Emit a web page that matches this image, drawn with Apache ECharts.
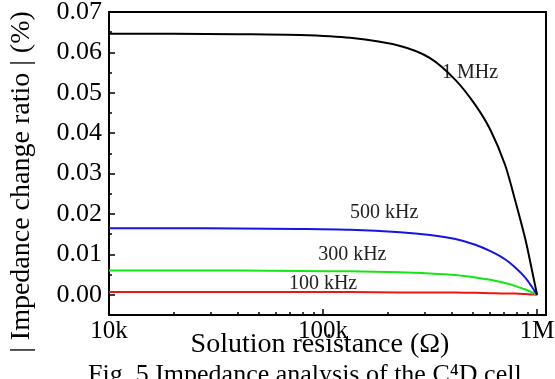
<!DOCTYPE html>
<html>
<head>
<meta charset="utf-8">
<script src="https://cdn.jsdelivr.net/npm/echarts@6/dist/echarts.min.js"></script>
<style>
html,body{margin:0;padding:0;background:#fff;}
#chart{width:555px;height:379px;}
</style>
</head>
<body>
<div id="chart"></div>
<script>
// ---- data ----
const resistance = [1e4, 2e4, 4e4, 78e3, 134e3, 229e3, 316e3, 415e3, 514e3, 605e3, 708e3, 788e3, 882e3, 950e3, 975e3, 1e6];
const ratio1MHz   = [0.0646, 0.0646, 0.0645, 0.0643, 0.0636, 0.0616, 0.0586, 0.0532, 0.0470, 0.0408, 0.0322, 0.0235, 0.0136, 0.0056, 0.0027, 0];
const ratio500kHz = [0.0165, 0.0165, 0.0164, 0.0163, 0.0161, 0.0155, 0.0148, 0.0138, 0.0124, 0.0108, 0.0088, 0.0068, 0.0042, 0.0018, 0.0009, 0];
const ratio300kHz = [0.0060, 0.0060, 0.0060, 0.0059, 0.0058, 0.0056, 0.0053, 0.0049, 0.0043, 0.0037, 0.0029, 0.0022, 0.0013, 0.0006, 0.0003, 0];
const ratio100kHz = [0.0007, 0.0007, 0.0007, 0.0007, 0.0007, 0.0006, 0.0006, 0.0006, 0.0005, 0.0004, 0.0003, 0.0003, 0.0002, 0.0001, 0.00005, 0];
const seriesNames = ['1 MHz', '500 kHz', '300 kHz', '100 kHz'];
const seriesColors = ['#000000', '#1414e6', '#14e614', '#f01414'];
// curve label anchors [resistance, ratio]
const labelAnchors = [[486e3, 0.0549], [193e3, 0.0202], [137e3, 0.0099], [100e3, 0.0027]];
const xMajorTicks = [1e4, 1e5, 1e6];
const xMinorTicks = [2e4,3e4,4e4,5e4,6e4,7e4,8e4,9e4,2e5,3e5,4e5,5e5,6e5,7e5,8e5,9e5];
const xTickLabels = {10000: '10k', 100000: '100k', 1000000: '1M'};
const yMajorTicks = [0, 0.01, 0.02, 0.03, 0.04, 0.05, 0.06, 0.07];
const yMinorTicks = [-0.005, 0.005, 0.015, 0.025, 0.035, 0.045, 0.055, 0.065];
const xTitle = 'Solution resistance (\u03A9)';
const yTitle = '| Impedance change ratio | (%)';
const caption = 'Fig. 5 Impedance analysis of the C\u2074D cell';

const FONT = '"Liberation Serif", "Times New Roman", serif';
const allSeries = [ratio1MHz, ratio500kHz, ratio300kHz, ratio100kHz];

const chart = echarts.init(document.getElementById('chart'), null, {renderer: 'canvas'});
const xBase = {type: 'log', logBase: 10, min: 1e4, max: 1.1e6, gridIndex: 0, splitLine: {show: false}, position: 'bottom'};
const yBase = {type: 'value', min: -0.005, max: 0.07, gridIndex: 0, splitLine: {show: false}, position: 'left'};

const option = {
  animation: false,
  backgroundColor: '#fff',
  grid: {left: 109, right: 9, top: 12, bottom: 64, show: true, borderColor: '#000', borderWidth: 2,
         containLabel: false, outerBoundsMode: 'none'},
  xAxis: [
    Object.assign({}, xBase, {
      axisLine: {show: true, onZero: false, lineStyle: {color: '#000', width: 2}},
      axisTick: {show: true, inside: true, length: 6, customValues: xMajorTicks, lineStyle: {color: '#000', width: 1.5}},
      axisLabel: {show: true, customValues: xMajorTicks, margin: 4, color: '#000', fontFamily: FONT, fontSize: 25,
        formatter: v => xTickLabels[Math.round(v)] || ''}
    }),
    Object.assign({}, xBase, {
      axisLine: {show: false, onZero: false},
      axisTick: {show: true, inside: true, length: 3, customValues: xMinorTicks, lineStyle: {color: '#000', width: 1.5}},
      axisLabel: {show: false}
    })
  ],
  yAxis: [
    Object.assign({}, yBase, {
      axisLine: {show: true, onZero: false, lineStyle: {color: '#000', width: 2}},
      axisTick: {show: true, inside: true, length: 6, customValues: yMajorTicks, lineStyle: {color: '#000', width: 1.5}},
      axisLabel: {show: true, customValues: yMajorTicks, margin: 7, color: '#000', fontFamily: FONT, fontSize: 26,
        formatter: v => (Math.abs(v) < 1e-9 ? 0 : v).toFixed(2)}
    }),
    Object.assign({}, yBase, {
      axisLine: {show: false, onZero: false},
      axisTick: {show: true, inside: true, length: 3, customValues: yMinorTicks, lineStyle: {color: '#000', width: 1.5}},
      axisLabel: {show: false}
    })
  ],
  series: allSeries.map((vals, i) => ({
    name: seriesNames[i],
    type: 'line',
    xAxisIndex: 0, yAxisIndex: 0,
    data: resistance.map((r, j) => [r, vals[j]]),
    smooth: 0.3,
    showSymbol: false,
    symbol: 'none',
    lineStyle: {color: seriesColors[i], width: 2},
    z: 10 - i,
    markPoint: {
      symbol: 'circle', symbolSize: 0,
      label: {show: true, position: 'inside', formatter: seriesNames[i], color: '#222', fontFamily: FONT, fontSize: 20},
      data: [{coord: labelAnchors[i]}]
    }
  })),
  graphic: [
    {type: 'text', x: 320, y: 345, style: {text: xTitle, fill: '#000', font: '28px ' + FONT, textAlign: 'center', textVerticalAlign: 'middle'}},
    {type: 'text', x: 22, y: 182, rotation: Math.PI / 2, style: {text: yTitle, fill: '#000', font: '28px ' + FONT, textAlign: 'center', textVerticalAlign: 'middle'}},
    {type: 'text', left: 88, top: 362, style: {text: caption, fill: '#000', font: '26px ' + FONT}}
  ]
};
chart.setOption(option);
</script>
</body>
</html>
